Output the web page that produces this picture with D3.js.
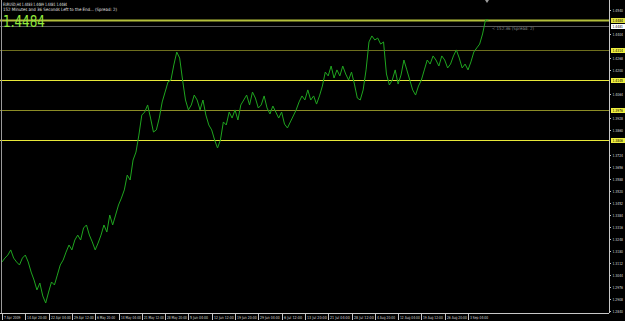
<!DOCTYPE html>
<html>
<head>
<meta charset="utf-8">
<script src="https://cdn.jsdelivr.net/npm/d3@7"></script>
<style>
  html, body { margin: 0; padding: 0; background: #000; }
  svg { display: block; font-family: "Liberation Sans Narrow", "DejaVu Sans Condensed", sans-serif; }
</style>
</head>
<body>
<div id="chart"></div>
<script>
/**
 * CONSTANTS AND DATA
 * */
const width = 625,
  height = 321;

// close prices, one every 4 H4 bars
const closes = [
  1.3117, 1.3139, 1.3156, 1.3185, 1.3139, 1.3117, 1.3100, 1.3139, 1.3156, 1.3117,
  1.3060, 1.3015, 1.2959, 1.2998, 1.2925, 1.2885, 1.2947, 1.3004, 1.2987, 1.3043,
  1.3100, 1.3128, 1.3173, 1.3213, 1.3185, 1.3241, 1.3269, 1.3241, 1.3309, 1.3326,
  1.3269, 1.3230, 1.3185, 1.3224, 1.3269, 1.3326, 1.3286, 1.3382, 1.3326, 1.3382,
  1.3439, 1.3478, 1.3524, 1.3608, 1.3580, 1.3693, 1.3738, 1.3834, 1.3947, 1.3964,
  1.4004, 1.3930, 1.3851, 1.3863, 1.3930, 1.4021, 1.4077, 1.4134, 1.4145, 1.4230,
  1.4303, 1.4269, 1.4145, 1.4032, 1.3976, 1.4004, 1.4060, 1.4032, 1.3976, 1.4032,
  1.3947, 1.3891, 1.3863, 1.3806, 1.3761, 1.3806, 1.3908, 1.3891, 1.3964, 1.3930,
  1.3976, 1.3919, 1.4004, 1.4032, 1.4060, 1.4004, 1.4077, 1.4043, 1.3987, 1.4004,
  1.4055, 1.3987, 1.3953, 1.3998, 1.3964, 1.3930, 1.3964, 1.3896, 1.3874, 1.3908,
  1.3942, 1.3976, 1.4021, 1.4055, 1.4032, 1.4089, 1.4032, 1.4055, 1.4009, 1.4055,
  1.4111, 1.4190, 1.4168, 1.4224, 1.4156, 1.4202, 1.4168, 1.4224, 1.4179, 1.4145,
  1.4190, 1.4122, 1.4043, 1.4032, 1.4089, 1.4202, 1.4360, 1.4394, 1.4371, 1.4382,
  1.4348, 1.4360, 1.4179, 1.4117, 1.4145, 1.4202, 1.4122, 1.4173, 1.4258, 1.4202,
  1.4145, 1.4089, 1.4060, 1.4111, 1.4145, 1.4202, 1.4258, 1.4235, 1.4281, 1.4258,
  1.4224, 1.4281, 1.4258, 1.4213, 1.4235, 1.4281, 1.4315, 1.4269, 1.4213, 1.4235,
  1.4202, 1.4247, 1.4303, 1.4326, 1.4348, 1.4405, 1.4484, 1.4484
];

// time axis labels, one every 32 bars
const timeLabels = [
  "7 Apr 2009", "14 Apr 20:00", "22 Apr 04:00", "29 Apr 12:00", "6 May 20:00",
  "14 May 04:00", "21 May 12:00", "28 May 20:00", "5 Jun 04:00", "12 Jun 12:00",
  "19 Jun 20:00", "29 Jun 04:00", "6 Jul 12:00", "13 Jul 20:00", "21 Jul 04:00",
  "28 Jul 12:00", "4 Aug 20:00", "12 Aug 04:00", "19 Aug 12:00", "26 Aug 20:00",
  "3 Sep 04:00"
];

// price axis labels
const priceTicks = [
  1.2840, 1.2908, 1.2976, 1.3044, 1.3112, 1.3180, 1.3248, 1.3316, 1.3384, 1.3452,
  1.3520, 1.3588, 1.3656, 1.3724, 1.3792, 1.3860, 1.3928, 1.3996, 1.4064, 1.4132,
  1.4200, 1.4268, 1.4336, 1.4404, 1.4472, 1.4540
];

// horizontal level lines
const levels = [1.4484, 1.4314, 1.4145, 1.3976, 1.3806];
const levelColors = ["#b4bf3c", "#6e6e1e", "#e8e83a", "#8c8c26", "#e8e83a"];
const bidPrice = 1.4481;

const plotRight = 609,
  plotBottom = 313,
  fs = 4;

/**
 * SCALES
 * */
const x = d3.scaleLinear().domain([0, 640]).range([2, 468]);
const y = d3.scaleLinear().domain([1.2840, 1.4484]).range([311, 20]);

const svg = d3.select("#chart")
  .append("svg")
  .attr("width", width)
  .attr("height", height);

svg.append("rect")
  .attr("width", width)
  .attr("height", height)
  .attr("fill", "#000");

const bidY = Math.round(y(bidPrice) + 5);

// level lines
svg.selectAll("line.level")
  .data(levels)
  .join("line")
  .attr("class", "level")
  .attr("x1", 0)
  .attr("x2", plotRight)
  .attr("y1", d => Math.round(y(d)) + 0.5)
  .attr("y2", d => Math.round(y(d)) + 0.5)
  .attr("stroke", (d, i) => levelColors[i])
  .attr("stroke-width", (d, i) => i == 0 ? 2 : 1);

// bid line
svg.append("line")
  .attr("x1", 0)
  .attr("x2", plotRight)
  .attr("y1", bidY + 0.5)
  .attr("y2", bidY + 0.5)
  .attr("stroke", "#5a5a5a");

// price line
const line = d3.line()
  .x((d, i) => x(i * 4))
  .y(d => y(d));

svg.append("path")
  .datum(closes)
  .attr("d", line)
  .attr("fill", "none")
  .attr("stroke", "#1fa51f")
  .attr("stroke-width", 1);

// frame
svg.append("line")
  .attr("x1", 1.5).attr("x2", 1.5)
  .attr("y1", 0).attr("y2", plotBottom)
  .attr("stroke", "#9a9a9a");
svg.append("line")
  .attr("x1", plotRight + 0.5).attr("x2", plotRight + 0.5)
  .attr("y1", 0).attr("y2", plotBottom)
  .attr("stroke", "#c8c8c8");
svg.append("line")
  .attr("x1", 0).attr("x2", plotRight)
  .attr("y1", plotBottom + 0.5).attr("y2", plotBottom + 0.5)
  .attr("stroke", "#c8c8c8");

// price axis (labels under a box are hidden, as the terminal does)
const boxYs = levels.map(d => Math.round(y(d))).concat([bidY]);
const pt = svg.selectAll("g.ptick")
  .data(priceTicks.filter(d => boxYs.every(b => Math.abs(b - y(d)) > 4.5)))
  .join("g")
  .attr("class", "ptick")
  .attr("transform", d => "translate(" + plotRight + "," + Math.round(y(d)) + ")");
pt.append("line")
  .attr("x1", 0).attr("x2", 2)
  .attr("y1", 0.5).attr("y2", 0.5)
  .attr("stroke", "#c8c8c8");
pt.append("text")
  .attr("x", 3.5)
  .attr("y", 2)
  .attr("fill", "#d8d8d8")
  .attr("font-size", fs)
  .attr("textLength", 10.5)
  .attr("lengthAdjust", "spacingAndGlyphs")
  .text(d => d.toFixed(4));

// level boxes on the price axis
const boxes = svg.selectAll("g.lbox")
  .data(levels)
  .join("g")
  .attr("class", "lbox")
  .attr("transform", d => "translate(" + (plotRight + 1) + "," + Math.round(y(d)) + ")");
boxes.append("rect")
  .attr("x", 1).attr("y", -2)
  .attr("width", 14).attr("height", 5)
  .attr("fill", (d, i) => i == 0 ? "#e0e040" : "#f0f040");
boxes.append("text")
  .attr("x", 2.5).attr("y", 2)
  .attr("fill", "#000")
  .attr("font-size", fs)
  .attr("textLength", 10.5)
  .attr("lengthAdjust", "spacingAndGlyphs")
  .text(d => d.toFixed(4));

// bid box
const bid = svg.append("g")
  .attr("transform", "translate(" + (plotRight + 1) + "," + bidY + ")");
bid.append("rect")
  .attr("x", 1).attr("y", -2)
  .attr("width", 14).attr("height", 5)
  .attr("fill", "#fff");
bid.append("text")
  .attr("x", 2.5).attr("y", 2)
  .attr("fill", "#000")
  .attr("font-size", fs)
  .attr("textLength", 10.5)
  .attr("lengthAdjust", "spacingAndGlyphs")
  .text(bidPrice.toFixed(4));

// time axis
const tt = svg.selectAll("g.ttick")
  .data(timeLabels)
  .join("g")
  .attr("class", "ttick")
  .attr("transform", (d, i) => "translate(" + Math.round(x(i * 32)) + "," + plotBottom + ")");
tt.append("line")
  .attr("x1", 0.5).attr("x2", 0.5)
  .attr("y1", 1).attr("y2", 7)
  .attr("stroke", "#c8c8c8");
tt.append("text")
  .attr("x", 2)
  .attr("y", 6)
  .attr("fill", "#d8d8d8")
  .attr("font-size", fs)
  .attr("textLength", d => d.length * 1.65)
  .attr("lengthAdjust", "spacingAndGlyphs")
  .text(d => d);

// header texts
svg.append("text")
  .attr("x", 3).attr("y", 6)
  .attr("fill", "#e0e0e0")
  .attr("font-size", 4.4)
  .attr("textLength", 64)
  .attr("lengthAdjust", "spacingAndGlyphs")
  .text("EURUSD,H4  1.4483 1.4489 1.4481 1.4484");
svg.append("text")
  .attr("x", 3).attr("y", 11)
  .attr("fill", "#e0e0e0")
  .attr("font-size", 4.4)
  .attr("textLength", 114)
  .attr("lengthAdjust", "spacingAndGlyphs")
  .text("152 Minutes and 36 Seconds Left to the End... (Spread: 2)");
svg.append("text")
  .attr("x", 3).attr("y", 27)
  .attr("fill", "#92e83c")
  .attr("font-family", "DejaVu Sans")
  .attr("font-size", 16)
  .attr("textLength", 42)
  .attr("lengthAdjust", "spacingAndGlyphs")
  .text("1.4484");

// remaining time label next to the last bar
svg.append("text")
  .attr("x", 492).attr("y", 30)
  .attr("fill", "#8a8a8a")
  .attr("font-size", 4.4)
  .attr("textLength", 42)
  .attr("lengthAdjust", "spacingAndGlyphs")
  .text("< 152:36 (Spread: 2)");

// chart shift marker
svg.append("path")
  .attr("d", "M485,0 L489,0 L487,3 Z")
  .attr("fill", "#9a9a9a");
</script>
</body>
</html>
